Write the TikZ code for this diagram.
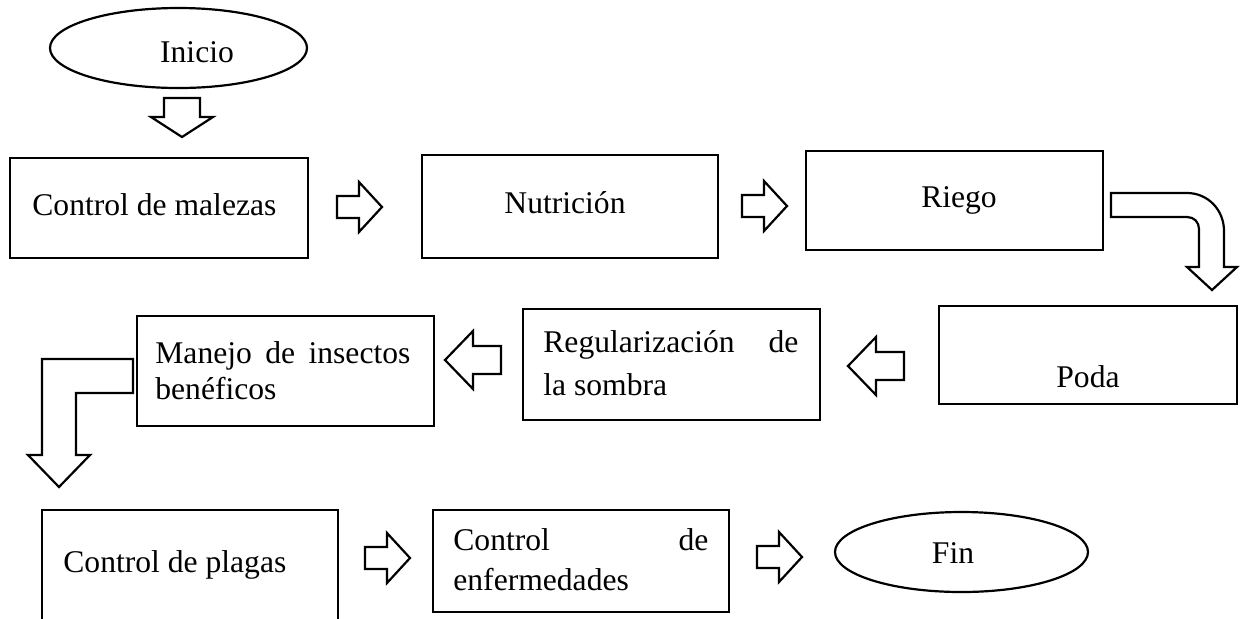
\documentclass[tikz,border=0pt]{standalone}
\usepackage{fontspec}
\setmainfont{Liberation Serif}
\usetikzlibrary{shapes.geometric}
\begin{document}
\begin{tikzpicture}[x=0.5pt,y=-0.5pt,
  box/.style={draw, line width=1.1pt, inner sep=0pt, anchor=north west},
  term/.style={draw, ellipse, line width=1.1pt, inner sep=0pt},
  txt/.style={inner sep=0pt, font=\fontsize{15.8pt}{19pt}\selectfont},
  blockarrow/.style={draw, line width=1.1pt, fill=white, line join=miter},
  pics/rarr/.style={code={\draw[blockarrow] (-45,-11) -- (-23,-11) -- (-23,-25) -- (0,0) -- (-23,25) -- (-23,11) -- (-45,11) -- cycle;}},
  pics/larr/.style={code={\draw[blockarrow] (56,-14) -- (28,-14) -- (28,-29) -- (0,0) -- (28,29) -- (28,14) -- (56,14) -- cycle;}},
  pics/darr/.style={code={\draw[blockarrow] (-18,-39) -- (-18,-20) -- (-31,-20) -- (0,0) -- (31,-20) -- (18,-20) -- (18,-39) -- cycle;}}
]
\useasboundingbox (0,0) rectangle (1248,618);
\clip (0,0) rectangle (1248,618);

% terminals
\node[term, minimum width=128.5pt, minimum height=40pt] (inicio) at (178.5,48) {};
\node[txt, anchor=base] (tinicio) at (197,62) {Inicio};
\node[term, minimum width=126.5pt, minimum height=40pt] (fin) at (961.5,552) {};
\node[txt, anchor=base] (tfin) at (953,563) {Fin};

% boxes
\node[box, minimum width=149pt, minimum height=50pt] (malezas) at (9,157) {};
\node[txt, anchor=base west] (tmalezas) at (32,215) {Control de malezas};

\node[box, minimum width=148pt, minimum height=51.5pt] (nutricion) at (421,154) {};
\node[txt, anchor=base] (tnutricion) at (565,213) {Nutrición};

\node[box, minimum width=148.5pt, minimum height=49.5pt] (riego) at (805,150) {};
\node[txt, anchor=base] (triego) at (959,207) {Riego};

\node[box, minimum width=149pt, minimum height=49pt] (poda) at (938,305) {};
\node[txt, anchor=base] (tpoda) at (1088,387) {Poda};

\node[box, minimum width=148.5pt, minimum height=55.5pt] (regul) at (522,308) {};
\node[txt, anchor=base west] (tregula) at (543,352) {\makebox[127.5pt][s]{Regularización de}};
\node[txt, anchor=base west] (tregulb) at (543,395) {la sombra};

\node[box, minimum width=148.5pt, minimum height=55pt] (manejo) at (136,315) {};
\node[txt, anchor=base west] (tmanejoa) at (155,363) {\makebox[127.5pt][s]{Manejo de insectos}};
\node[txt, anchor=base west] (tmanejob) at (155,399) {benéficos};

\node[box, minimum width=148pt, minimum height=65pt] (plagas) at (41,509) {};
\node[txt, anchor=base west] (tplagas) at (63,572) {Control de plagas};

\node[box, minimum width=148pt, minimum height=51pt] (enfermedades) at (432,509) {};
\node[txt, anchor=base west] (tenfa) at (453,550) {\makebox[127.5pt][s]{Control de}};
\node[txt, anchor=base west] (tenfb) at (453,590) {enfermedades};

% straight block arrows
\pic (a1) at (182,137) {darr};
\pic (a2) at (382,207) {rarr};
\pic (a3) at (787,206) {rarr};
\pic (a4) at (848,366) {larr};
\pic (a5) at (445,360) {larr};
\pic (a6) at (410,558) {rarr};
\pic (a7) at (802,557) {rarr};

% bent arrow Riego -> Poda
\draw[blockarrow] (1111,193) -- (1187,193)
  .. controls (1208,193) and (1224,210) .. (1224,231)
  -- (1224,267) -- (1237,267) -- (1212,290) -- (1187,267) -- (1199,267)
  -- (1199,229) .. controls (1199,222) and (1194,217) .. (1187,217)
  -- (1111,217) -- cycle;

% L arrow Manejo -> Control de plagas
\draw[blockarrow] (133,359) -- (42,359) -- (42,455) -- (28,455) -- (59,487)
  -- (90,455) -- (76,455) -- (76,393) -- (133,393) -- cycle;
\end{tikzpicture}
\end{document}
